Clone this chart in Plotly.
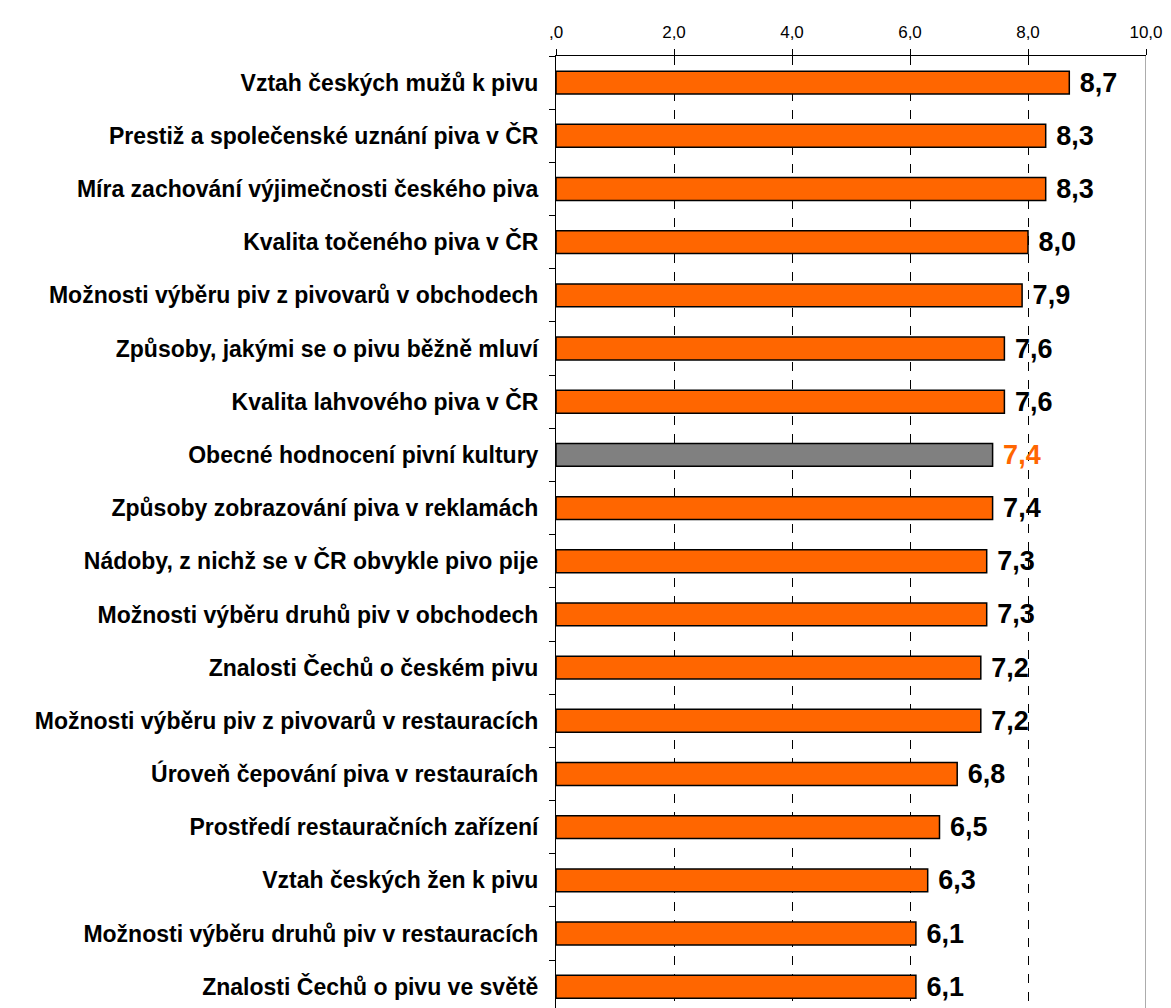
import plotly.graph_objects as go

categories = [
    "Vztah českých mužů k pivu",
    "Prestiž a společenské uznání piva v ČR",
    "Míra zachování výjimečnosti českého piva",
    "Kvalita točeného piva v ČR",
    "Možnosti výběru piv z pivovarů v obchodech",
    "Způsoby, jakými se o pivu běžně mluví",
    "Kvalita lahvového piva v ČR",
    "Obecné hodnocení pivní kultury",
    "Způsoby zobrazování piva v reklamách",
    "Nádoby, z nichž se v ČR obvykle pivo pije",
    "Možnosti výběru druhů piv v obchodech",
    "Znalosti Čechů o českém pivu",
    "Možnosti výběru piv z pivovarů v restauracích",
    "Úroveň čepování piva v restauraích",
    "Prostředí restauračních zařízení",
    "Vztah českých žen k pivu",
    "Možnosti výběru druhů piv v restauracích",
    "Znalosti Čechů o pivu ve světě",
]
values = [8.7, 8.3, 8.3, 8.0, 7.9, 7.6, 7.6, 7.4, 7.4, 7.3, 7.3, 7.2, 7.2, 6.8, 6.5, 6.3, 6.1, 6.1]
highlight = "Obecné hodnocení pivní kultury"
x_tickvals = [0, 2, 4, 6, 8, 10]
x_ticktext = [",0", "2,0", "4,0", "6,0", "8,0", "10,0"]

ORANGE = "#FF6600"
GRAY = "#808080"

bar_colors = [GRAY if c == highlight else ORANGE for c in categories]
text_colors = [ORANGE if c == highlight else "black" for c in categories]
labels = ["\u00a0" + f"{v:.1f}".replace(".", ",") for v in values]

fig = go.Figure(go.Bar(
    x=values,
    y=categories,
    orientation="h",
    width=0.43,
    marker=dict(color=bar_colors, line=dict(color="black", width=1.5)),
    text=labels,
    textposition="outside",
    constraintext="none",
    textfont=dict(family="Liberation Sans", size=27, color=text_colors, weight="bold"),
    cliponaxis=False,
))

fig.update_layout(
    width=1163,
    height=1000,
    margin=dict(l=548, r=25, t=48, b=0),
    plot_bgcolor="white",
    paper_bgcolor="white",
    showlegend=False,
    font=dict(family="Liberation Sans", color="black"),
    xaxis=dict(
        side="top",
        range=[0, 10],
        tickvals=x_tickvals,
        ticktext=x_ticktext,
        tickfont=dict(size=17, color="black"),
        ticks="outside",
        ticklen=6,
        tickcolor="black",
        ticklabelstandoff=4,
        showline=True,
        linecolor="black",
        linewidth=1,
        showgrid=True,
        gridcolor="black",
        griddash="dash",
        gridwidth=1,
        zeroline=False,
    ),
    yaxis=dict(
        type="category",
        categoryorder="array",
        categoryarray=categories,
        range=[17.4, -0.5],
        tickfont=dict(size=23, color="black", weight="bold"),
        ticks="outside",
        tickson="boundaries",
        ticklen=6,
        tickcolor="black",
        ticklabelstandoff=12,
        showline=True,
        linecolor="black",
        linewidth=1,
        showgrid=False,
    ),
)

fig.add_shape(type="line", xref="x", yref="paper", x0=10, x1=10, y0=0, y1=1,
              line=dict(color="#909090", width=1.5), layer="above")

fig.write_html("out.html")
